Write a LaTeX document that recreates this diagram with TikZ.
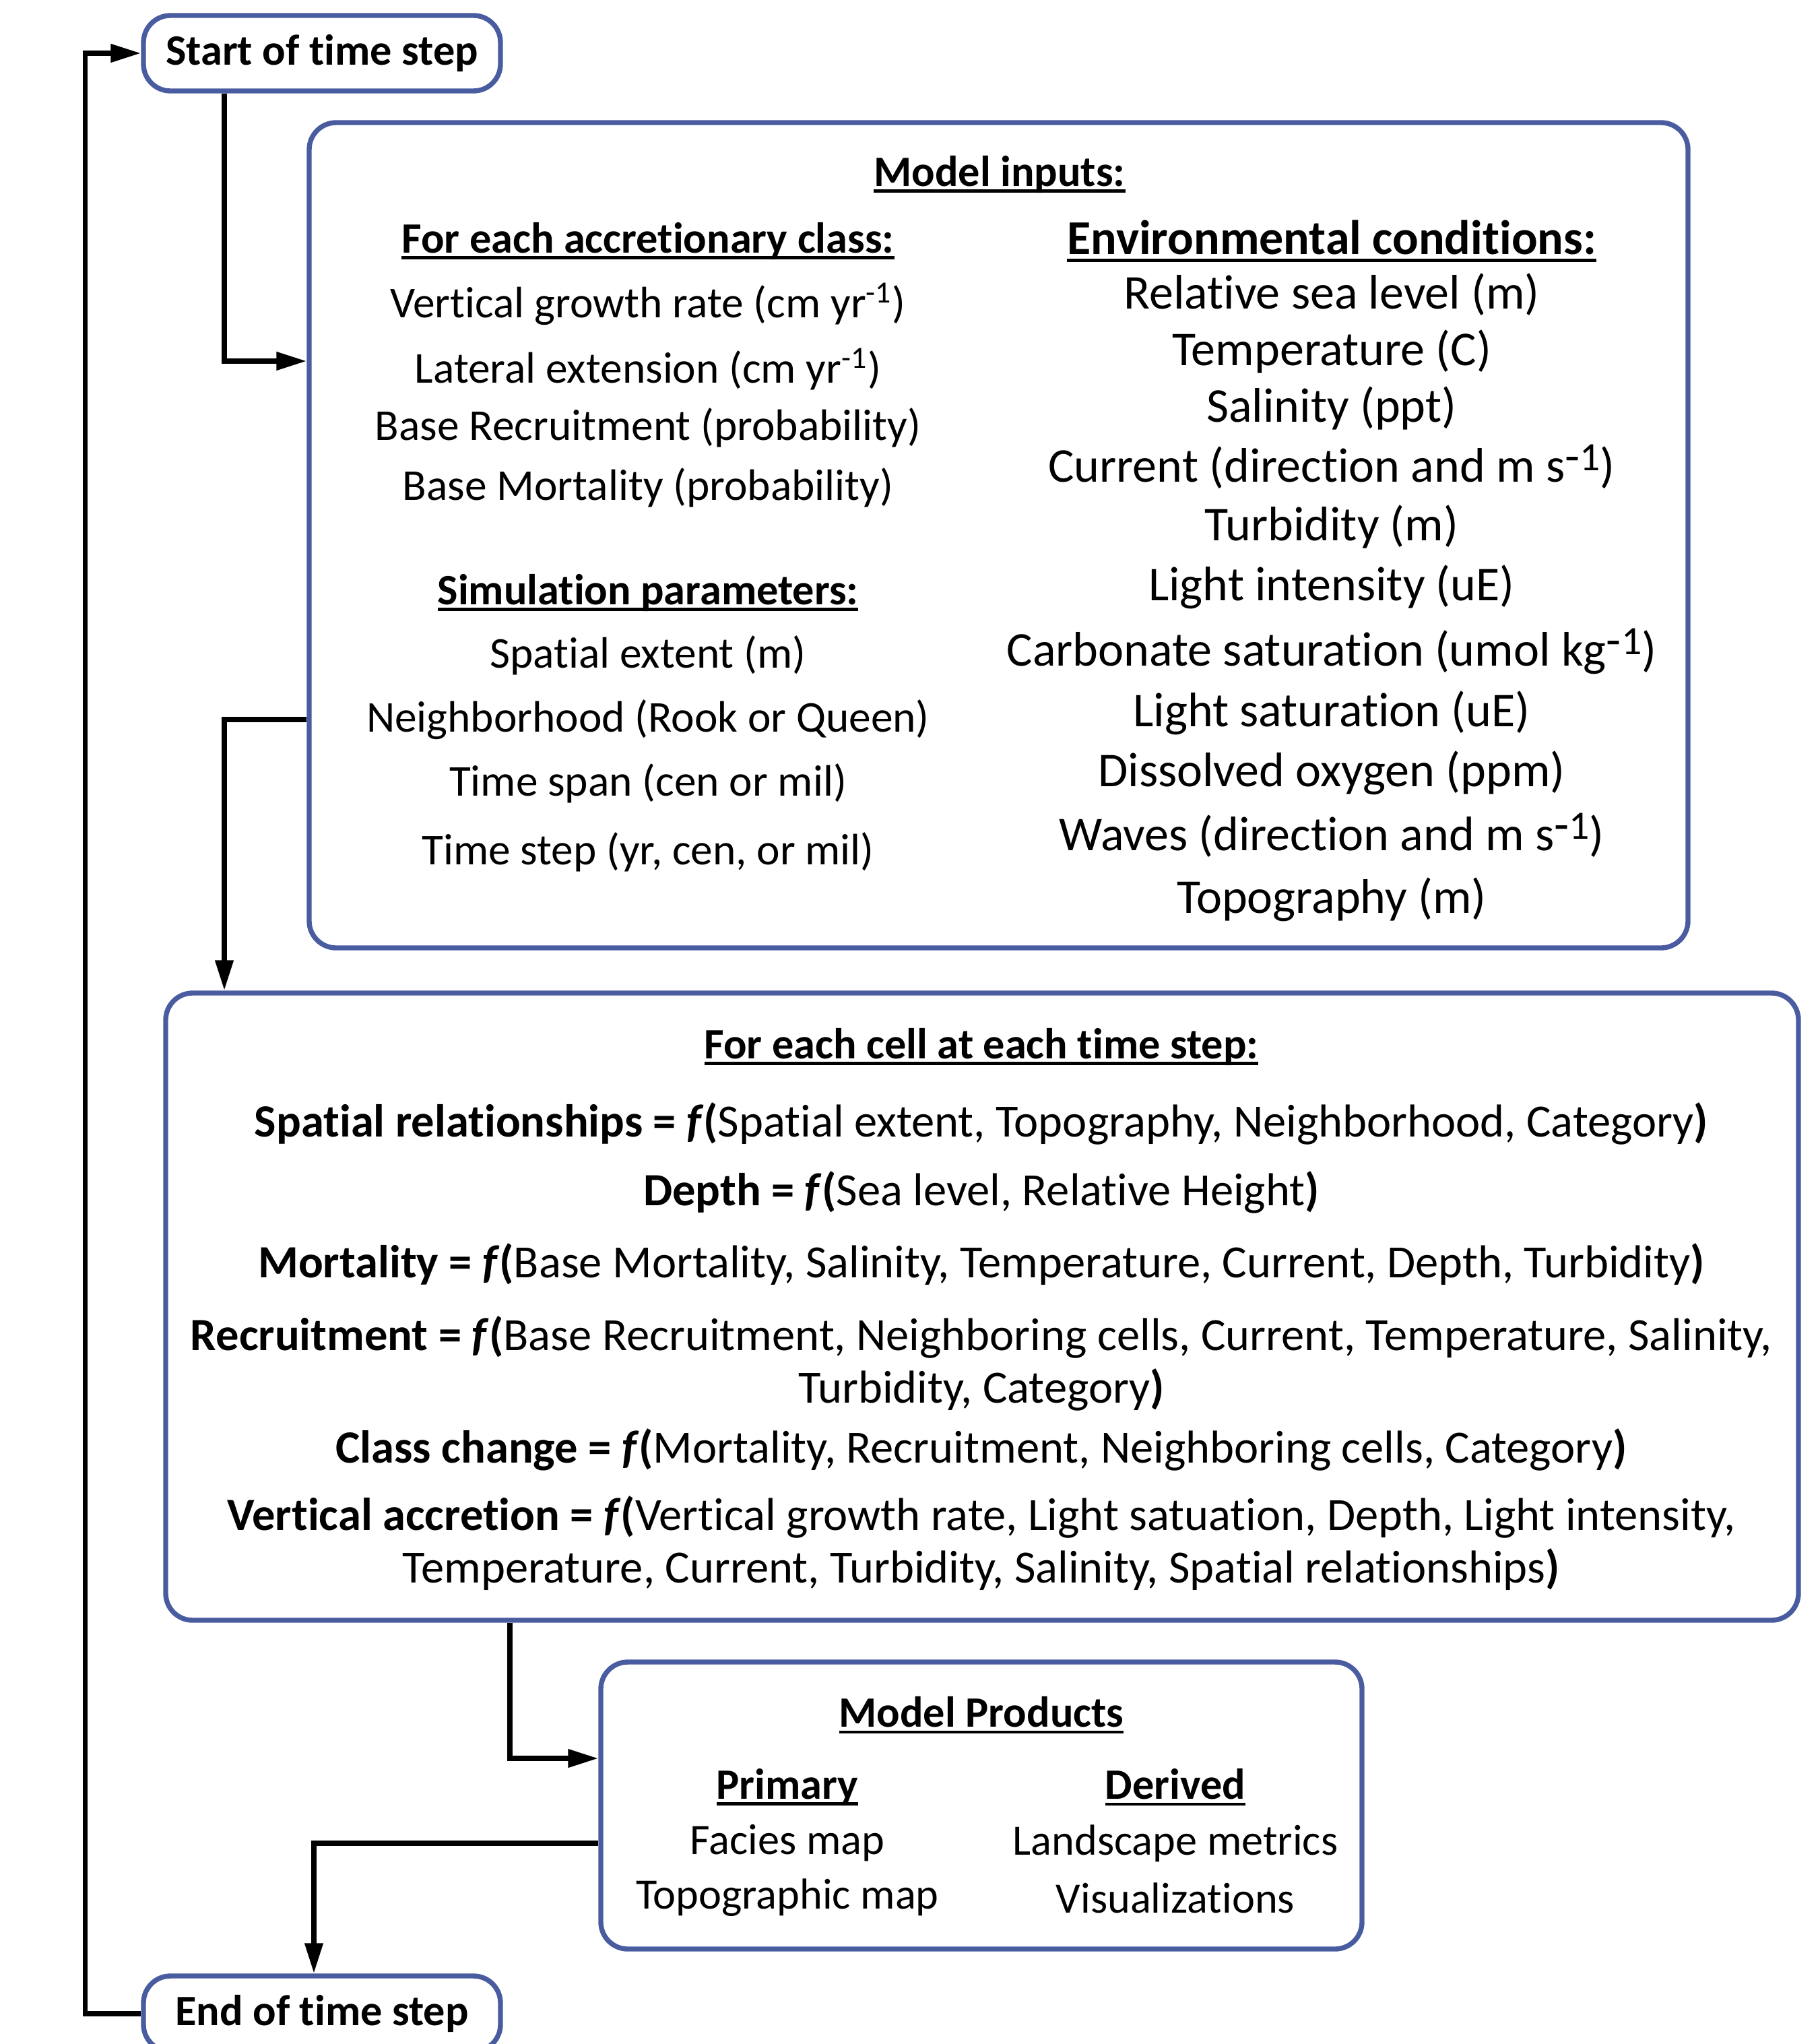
\documentclass[tikz,border=0pt]{standalone}
\usepackage{fontspec}
\setmainfont{Carlito}[Ligatures={NoCommon}]
\usepackage{xcolor}
\usetikzlibrary{arrows.meta, positioning, calc}
\definecolor{boxblue}{RGB}{74,92,160}
\newsavebox{\hdrbox}
\newcommand{\hdr}[1]{\sbox{\hdrbox}{\textbf{#1}}\rlap{\rule[-0.15em]{\wd\hdrbox}{1.4pt}}\usebox{\hdrbox}}
\newcommand{\supone}{\raisebox{0.42ex}{-}\raisebox{0.5ex}{\fontsize{17}{17}\selectfont 1}}
\newcommand{\fbold}{\textbf{= \textit{f}(}}

\begin{document}
\begin{tikzpicture}[
    font=\fontsize{18.3}{22}\selectfont,
    box/.style={draw=boxblue, line width=2.1pt, rounded corners=0.4cm, fill=white, inner sep=0pt},
    txt/.style={inner sep=1pt, align=center},
    envtxt/.style={txt, font=\fontsize{20.5}{24}\selectfont},
    celltxt/.style={txt, font=\fontsize{19.5}{22.2}\selectfont},
    line/.style={line width=2.1pt, line join=miter},
    arr/.style={line, -{Triangle[length=4.5mm, width=2.6mm]}}
]
    \useasboundingbox (0,0) rectangle (27.01,-30.34);

    % boxes
    \node[box, minimum width=5.30cm, minimum height=1.12cm] (start) at (4.78,-0.79) {\textbf{Start of time step}};
    \node[box, minimum width=20.47cm, minimum height=12.25cm] (inputs) at (14.825,-7.945) {};
    \node[box, minimum width=24.24cm, minimum height=9.31cm] (cell) at (14.58,-19.395) {};
    \node[box, minimum width=11.30cm, minimum height=4.26cm] (products) at (14.57,-26.80) {};
    \node[box, minimum width=5.30cm, minimum height=1.12cm] (endstep) at (4.78,-29.89) {\textbf{End of time step}};

    % model inputs
    \node[txt] (inhead) at (14.84,-2.59) {\hdr{Model inputs:}};
    \node[txt] (classhead) at (9.62,-3.58) {\hdr{For each accretionary class:}};
    \node[txt, font=\fontsize{18.6}{22}\selectfont] (vgrowth) at (9.62,-4.51) {Vertical growth rate (cm yr\textsuperscript{-1})};
    \node[txt, font=\fontsize{18.6}{22}\selectfont] (lateral) at (9.62,-5.48) {Lateral extension (cm yr\textsuperscript{-1})};
    \node[txt, font=\fontsize{18.6}{22}\selectfont] (baserec) at (9.62,-6.35) {Base Recruitment (probability)};
    \node[txt, font=\fontsize{18.6}{22}\selectfont] (basemort) at (9.62,-7.24) {Base Mortality (probability)};
    \node[txt] (simhead) at (9.62,-8.80) {\hdr{Simulation parameters:}};
    \node[txt, font=\fontsize{18.6}{22}\selectfont] (extent) at (9.62,-9.73) {Spatial extent (m)};
    \node[txt, font=\fontsize{18.6}{22}\selectfont] (neigh) at (9.62,-10.68) {Neighborhood (Rook or Queen)};
    \node[txt, font=\fontsize{18.6}{22}\selectfont] (span) at (9.62,-11.63) {Time span (cen or mil)};
    \node[txt, font=\fontsize{18.6}{22}\selectfont] (tstep) at (9.62,-12.65) {Time step (yr, cen, or mil)};

    \node[envtxt] (envhead) at (19.77,-3.58) {\hdr{Environmental conditions:}};
    \node[envtxt] (sealevel) at (19.77,-4.37) {Relative sea level (m)};
    \node[envtxt] (temp) at (19.77,-5.22) {Temperature (C)};
    \node[envtxt] (salin) at (19.77,-6.06) {Salinity (ppt)};
    \node[envtxt] (current) at (19.77,-6.93) {Current (direction and m s\supone)};
    \node[envtxt] (turbid) at (19.77,-7.82) {Turbidity (m)};
    \node[envtxt] (light) at (19.77,-8.71) {Light intensity (uE)};
    \node[envtxt] (carb) at (19.77,-9.67) {Carbonate saturation (umol kg\supone)};
    \node[envtxt] (lightsat) at (19.77,-10.58) {Light saturation (uE)};
    \node[envtxt] (oxygen) at (19.77,-11.47) {Dissolved oxygen (ppm)};
    \node[envtxt] (waves) at (19.77,-12.40) {Waves (direction and m s\supone)};
    \node[envtxt] (topo) at (19.77,-13.35) {Topography (m)};

    % cell rules
    \node[txt] (cellhead) at (14.57,-15.54) {\hdr{For each cell at each time step:}};
    \node[celltxt] (spatial) at (14.57,-16.68) {\textbf{Spatial relationships \fbold}Spatial extent, Topography, Neighborhood, Category\textbf{)}};
    \node[celltxt] (depth) at (14.57,-17.70) {\textbf{Depth \fbold}Sea level, Relative Height\textbf{)}};
    \node[celltxt] (mort) at (14.57,-18.77) {\textbf{Mortality \fbold}Base Mortality, Salinity, Temperature, Current, Depth, Turbidity\textbf{)}};
    \node[celltxt] (recruit) at (14.57,-20.24) {\textbf{Recruitment \fbold}Base Recruitment, Neighboring cells, Current, Temperature, Salinity,\\ Turbidity, Category\textbf{)}};
    \node[celltxt] (change) at (14.57,-21.52) {\textbf{Class change \fbold}Mortality, Recruitment, Neighboring cells, Category\textbf{)}};
    \node[celltxt] (accrete) at (14.57,-22.905) {\textbf{Vertical accretion \fbold}Vertical growth rate, Light satuation, Depth, Light intensity,\\ Temperature, Current, Turbidity, Salinity, Spatial relationships\textbf{)}};

    % products
    \node[txt] (prodhead) at (14.57,-25.46) {\hdr{Model Products}};
    \node[txt] (primary) at (11.69,-26.53) {\hdr{Primary}};
    \node[txt] (derived) at (17.45,-26.53) {\hdr{Derived}};
    \node[txt] (facies) at (11.69,-27.36) {Facies map};
    \node[txt] (topomap) at (11.69,-28.17) {Topographic map};
    \node[txt] (metrics) at (17.45,-27.36) {Landscape metrics};
    \node[txt] (visual) at (17.45,-28.17) {Visualizations};

    % connectors
    \coordinate (spine) at (3.33,0);
    \coordinate (drop) at (7.57,0);
    \draw[arr] (endstep.west) -- ++(-0.83,0) |- (start.west);
    \draw[arr] (spine |- start.south) |- ([yshift=2.585cm]inputs.west);
    \draw[arr] ([yshift=-2.735cm]inputs.west) -| (spine |- cell.north);
    \draw[arr] (drop |- cell.south) |- ([yshift=0.70cm]products.west);
    \draw[arr] ([yshift=-0.56cm]products.west) -| ([xshift=-0.12cm]endstep.north);
\end{tikzpicture}
\end{document}
